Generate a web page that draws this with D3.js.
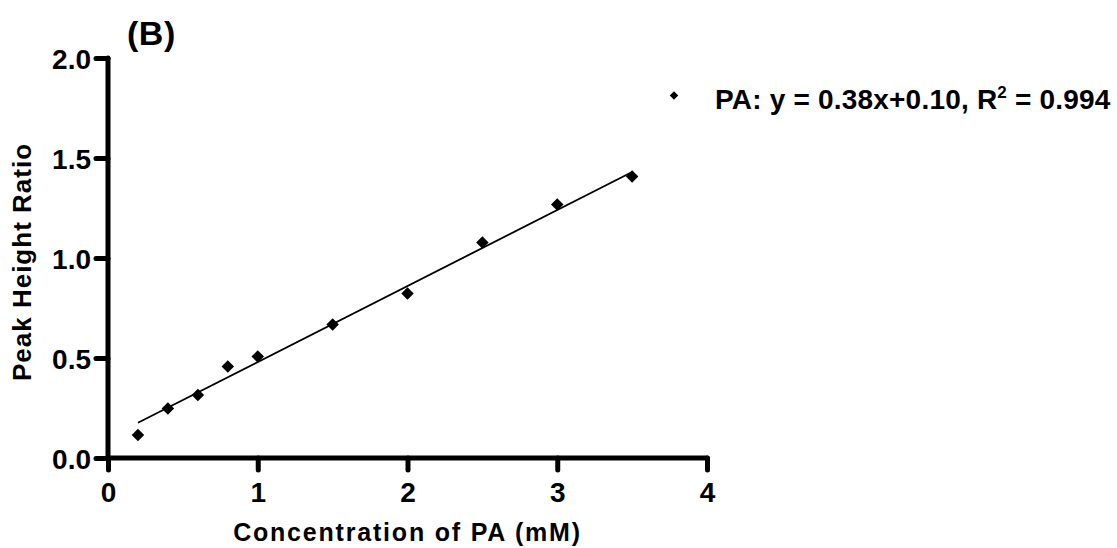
<!DOCTYPE html>
<html>
<head>
<meta charset="utf-8">
<script src="https://cdn.jsdelivr.net/npm/d3@7"></script>
<style>
  html, body { margin: 0; padding: 0; background: #fff; }
  svg { display: block; font-family: "Liberation Sans", Arial, Helvetica, sans-serif; font-weight: bold; }
</style>
</head>
<body>
<svg id="chart" width="1117" height="548"></svg>
<script>
// Calibration points: PA concentration (mM) vs. peak height ratio
const concentration = [0.2, 0.4, 0.6, 0.8, 1.0, 1.5, 2.0, 2.5, 3.0, 3.5];
const peakRatio     = [0.115, 0.248, 0.315, 0.457, 0.507, 0.668, 0.823, 1.078, 1.268, 1.407];

// Linear fit reported in the legend
const fitSlope = 0.38;
const fitIntercept = 0.10;
const fitRange = [0.2, 3.5];

const xTicks = [0, 1, 2, 3, 4];
const yTicks = [0, 0.5, 1.0, 1.5, 2.0];

const panelLabel = "(B)";
const xTitle = "Concentration of PA (mM)";
const yTitle = "Peak Height Ratio";
const legendText = ["PA: y = 0.38x+0.10, R", "2", " = 0.994"];

const svg = d3.select("#chart");

const x = d3.scaleLinear().domain([0, 4]).range([108, 707]);
const y = d3.scaleLinear().domain([0, 2]).range([458, 58]);

const fontStack = "'Liberation Sans', Arial, Helvetica, sans-serif";

// Axes
const xAxis = d3.axisBottom(x).tickValues(xTicks).tickFormat(d3.format("d"))
  .tickSize(12).tickSizeOuter(0).tickPadding(12);
const yAxis = d3.axisLeft(y).tickValues(yTicks).tickFormat(d3.format(".1f"))
  .tickSize(12).tickSizeOuter(0).tickPadding(5);

function styleAxis(g) {
  g.select(".domain").attr("stroke", "#000").attr("stroke-width", 5).attr("stroke-linecap", "round");
  g.selectAll(".tick line").attr("stroke", "#000").attr("stroke-width", 5).attr("stroke-linecap", "round");
  g.selectAll(".tick text").attr("fill", "#000")
    .style("font-size", "28px").style("font-weight", "bold").style("font-family", fontStack);
}

svg.append("g").attr("transform", `translate(0,${y(0)})`)
  .call(xAxis)
  .call(g => {
    g.select(".domain").attr("d", `M${x(0)},0H${x(4)}`);
    styleAxis(g);
  });

svg.append("g").attr("transform", `translate(${x(0)},0)`)
  .call(yAxis)
  .call(g => {
    g.select(".domain").attr("d", `M0,${y(0)}V${y(2)}`);
    styleAxis(g);
    g.selectAll(".tick text").attr("dy", "0.36em");
  });

// Fitted regression line
svg.append("line")
  .attr("x1", x(fitRange[0])).attr("y1", y(fitSlope * fitRange[0] + fitIntercept))
  .attr("x2", x(fitRange[1])).attr("y2", y(fitSlope * fitRange[1] + fitIntercept))
  .attr("stroke", "#000").attr("stroke-width", 1.8);

// Data markers (filled diamonds)
const diamond = d3.symbol().type(d3.symbolSquare).size(78);
svg.append("g").selectAll("path")
  .data(concentration.map((c, i) => [c, peakRatio[i]]))
  .join("path")
  .attr("d", diamond)
  .attr("transform", d => `translate(${x(d[0])},${y(d[1])}) rotate(45)`)
  .attr("fill", "#000");

// Panel label
svg.append("text")
  .attr("x", 127).attr("y", 45)
  .style("font-size", "34px")
  .style("letter-spacing", "0.5px")
  .text(panelLabel);

// Axis titles
svg.append("text")
  .attr("x", (x(0) + x(4)) / 2).attr("y", 541)
  .attr("text-anchor", "middle")
  .style("font-size", "25px")
  .style("letter-spacing", "1.8px")
  .text(xTitle);

svg.append("text")
  .attr("transform", `translate(31,262) rotate(-90)`)
  .attr("text-anchor", "middle")
  .style("font-size", "26px")
  .style("letter-spacing", "1px")
  .text(yTitle);

// Legend
const legend = svg.append("g").attr("transform", "translate(674,109)");
legend.append("path")
  .attr("d", d3.symbol().type(d3.symbolSquare).size(36))
  .attr("transform", "translate(0,-13.5) rotate(45)")
  .attr("fill", "#000");
const lt = legend.append("text").attr("x", 41).attr("y", 0)
  .style("font-size", "28px").style("letter-spacing", "0.2px");
lt.append("tspan").text(legendText[0]);
lt.append("tspan").attr("dy", -11).style("font-size", "17px").text(legendText[1]);
lt.append("tspan").attr("dy", 11).text(legendText[2]);
</script>
</body>
</html>
